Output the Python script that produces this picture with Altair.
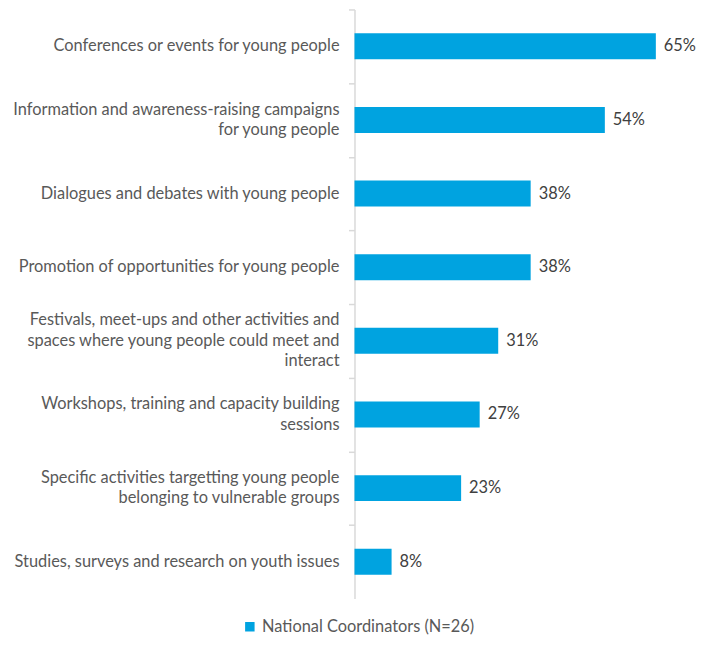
import altair as alt
import pandas as pd

categories = [
    "Conferences or events for young people",
    "Information and awareness-raising campaigns\nfor young people",
    "Dialogues and debates with young people",
    "Promotion of opportunities for young people",
    "Festivals, meet-ups and other activities and\nspaces where young people could meet and\ninteract",
    "Workshops, training and capacity building\nsessions",
    "Specific activities targetting young people\nbelonging to vulnerable groups",
    "Studies, surveys and research on youth issues",
]
values = [65, 54, 38, 38, 31, 27, 23, 8]
series_name = "National Coordinators (N=26)"

df = pd.DataFrame({
    "category": categories,
    "value": values,
    "label": [f"{v}%" for v in values],
    "series": [series_name] * len(values),
    # shift (in lines) that centres a multi-line label on its bar
    "shift": [-(c.count("\n")) / 2 for c in categories],
})

FONT = "Lato"
FS = 16.4
LH = 20.5
H = 590
N = len(categories)
STEP = H / N
PAD_IN = 0.65
HALF_BAND = STEP * (1 - PAD_IN) / 2

y_enc = alt.Y(
    "category:N",
    sort=None,
    scale=alt.Scale(paddingInner=PAD_IN, paddingOuter=PAD_IN / 2),
    axis=alt.Axis(
        title=None,
        labels=False,
        tickSize=6,
        tickColor="#d9d9d9",
        tickWidth=1.5,
        tickOffset=-STEP / 2,
        domainColor="#d9d9d9",
        domainWidth=1.5,
        minExtent=347,
        maxExtent=347,
        grid=False,
    ),
)

x_enc = alt.X(
    "value:Q",
    scale=alt.Scale(domain=[0, 70], nice=False),
    axis=None,
)

bars = alt.Chart(df).mark_bar(size=26).encode(
    y=y_enc,
    x=x_enc,
    color=alt.Color(
        "series:N",
        scale=alt.Scale(range=["#00A3E0"]),
        legend=alt.Legend(
            title=None,
            orient="none",
            legendX=-113,
            legendY=610,
            symbolType="square",
            symbolSize=90,
            symbolStrokeWidth=0,
            labelFont=FONT,
            labelFontSize=FS,
            labelColor="#595959",
            labelOffset=4,
            labelLimit=400,
        ),
    ),
)

values_text = alt.Chart(df).mark_text(
    align="left", baseline="middle", dx=8, font=FONT, fontSize=FS, color="#404040"
).encode(
    y=alt.Y("category:N", sort=None),
    x=alt.X("value:Q"),
    text="label:N",
)

cat_text = alt.Chart(df).mark_text(
    align="right", baseline="middle", dx=-15, font=FONT, fontSize=FS,
    color="#595959", lineBreak="\n", lineHeight=LH,
).encode(
    y=alt.Y("category:N", sort=None),
    yOffset=alt.YOffset(
        "shift:Q",
        scale=alt.Scale(domain=[0, 1], range=[HALF_BAND, HALF_BAND + LH]),
    ),
    x=alt.datum(0),
    text="category:N",
)

chart = (
    alt.layer(bars, values_text, cat_text)
    .properties(
        width=325,
        height=H,
        padding={"left": 0, "top": 0, "right": 0, "bottom": 0},
        background="white",
    )
    .configure_view(stroke=None)
)

chart.save("out.html", embed_options={"renderer": "svg", "actions": False})
